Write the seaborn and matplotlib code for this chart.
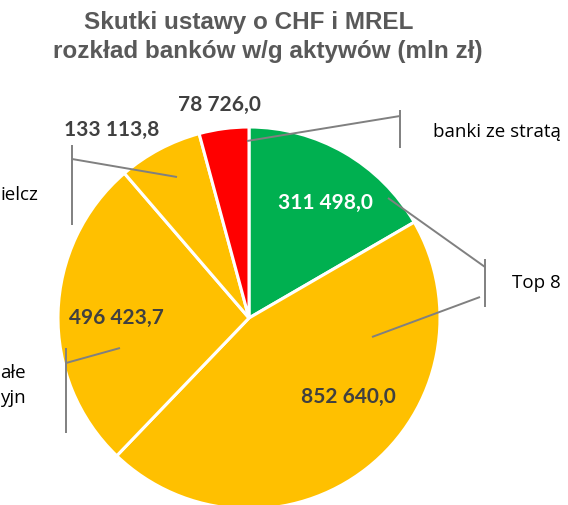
import matplotlib
matplotlib.use("Agg")
import matplotlib.pyplot as plt
import seaborn as sns
import numpy as np

# ---- data ----
categories = ["banki ze stratą", "Top 8", "pozostałe komercyjne", "banki spółdzielcze", "straty"]
values = [311498.0, 852640.0, 496423.7, 133113.8, 78726.0]
value_labels = ["311 498,0", "852 640,0", "496 423,7", "133 113,8", "78 726,0"]
slice_colors = ["#00B050", "#FFC000", "#FFC000", "#FFC000", "#FF0000"]
label_text_colors = ["white", "#404040", "#404040", "#404040", "#404040"]
# label placement (polar: angle in degrees, radius as fraction of pie radius)
label_angle = [56.5, -38.6, 180.0, 126.1, 98.0]
label_radius = [0.722, 0.663, 0.696, 1.218, 1.126]

title_line1 = "Skutki ustawy o CHF i MREL"
title_line2 = "rozkład banków w/g aktywów (mln zł)"

sns.set_theme(style="white")
plt.rcParams["font.family"] = ["Lato", "DejaVu Sans"]

W, H = 568, 505
fig = plt.figure(figsize=(W / 100, H / 100), dpi=100)
ax = fig.add_axes([0, 0, 1, 1])

cx, cy, R = 249, 318, 191  # pixel coords from top-left


def P(x, y):
    return x, H - y


ax.pie(values, colors=slice_colors, startangle=90, counterclock=False,
       center=P(cx, cy), radius=R,
       wedgeprops=dict(edgecolor="white", linewidth=2.2))
ax.set_xlim(0, W)
ax.set_ylim(0, H)
ax.set_aspect("equal")
ax.axis("off")

# data labels
for txt, col, a, r in zip(value_labels, label_text_colors, label_angle, label_radius):
    x = cx + r * R * np.cos(np.radians(a))
    y = cy - r * R * np.sin(np.radians(a))
    ax.text(*P(x, y), txt, ha="center", va="center", color=col,
            fontsize=15, fontweight="bold", family=["Lato", "DejaVu Sans"])

# leader lines / brackets
lc = "#808080"
lw = 1.4
segments = [
    [(247, 141), (400, 116)],
    [(400, 110), (400, 148)],
    [(388, 198), (485, 267)],
    [(485, 259), (485, 307)],
    [(480, 297), (372, 337)],
    [(72, 145), (72, 225)],
    [(72, 159), (177, 177)],
    [(66, 348), (66, 433)],
    [(66, 363), (120, 348)],
]
for seg in segments:
    xs = [P(*p)[0] for p in seg]
    ys = [P(*p)[1] for p in seg]
    ax.plot(xs, ys, color=lc, lw=lw, solid_capstyle="butt")

# category labels (partly cut by the figure edge)
cat_font = ["Open Sans", "DejaVu Sans"]
cat_size = 13.5
ax.text(*P(433, 137), "banki ze stratą", ha="left", va="baseline", fontsize=cat_size,
        color="#000000", family=cat_font)
ax.text(*P(512, 288), "Top 8", ha="left", va="baseline", fontsize=cat_size,
        color="#000000", family=cat_font)
ax.text(*P(0, 200), "ielcz", ha="left", va="baseline", fontsize=cat_size,
        color="#000000", family=cat_font)
ax.text(*P(0, 378), "ałe", ha="left", va="baseline", fontsize=cat_size,
        color="#000000", family=cat_font)
ax.text(*P(0, 403), "yjn", ha="left", va="baseline", fontsize=cat_size,
        color="#000000", family=cat_font)

# title
tfont = ["Liberation Sans", "DejaVu Sans"]
ax.text(*P(249, 29), title_line1, ha="center", va="baseline", fontsize=17.5,
        fontweight="bold", color="#595959", family=tfont)
ax.text(*P(267.5, 58), title_line2, ha="center", va="baseline", fontsize=17.5,
        fontweight="bold", color="#595959", family=tfont)

fig.savefig("out.png", dpi=100)
